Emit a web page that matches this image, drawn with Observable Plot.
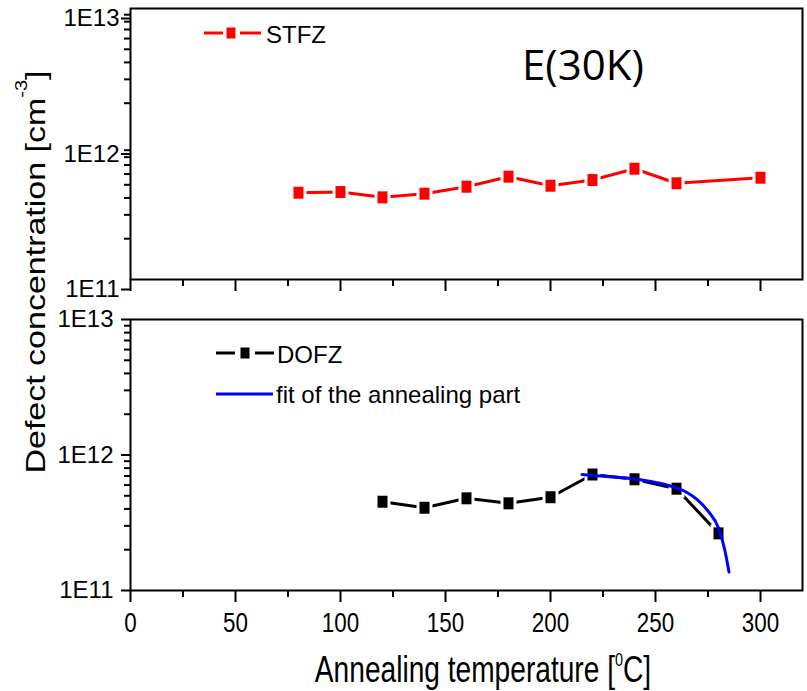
<!DOCTYPE html>
<html><head><meta charset="utf-8">
<script src="https://cdn.jsdelivr.net/npm/d3@7"></script>
<script src="https://cdn.jsdelivr.net/npm/@observablehq/plot@0.6"></script>
<style>
body{margin:0;background:#fff;}
#chart{position:relative;width:807px;height:691px;overflow:hidden;background:#fff;}
#chart svg{position:absolute;left:0;}
</style></head><body><div id="chart"></div>
<script>
// ---- data ----
const stfzTemp = [80, 100, 120, 140, 160, 180, 200, 220, 240, 260, 300];
const stfzConc = [4.37e11, 4.42e11, 4.04e11, 4.30e11, 4.84e11, 5.74e11, 4.92e11, 5.42e11, 6.57e11, 5.13e11, 5.64e11];
const dofzTemp = [120, 140, 160, 180, 200, 220, 240, 260, 280];
const dofzConc = [4.52e11, 4.08e11, 4.79e11, 4.40e11, 4.88e11, 7.18e11, 6.62e11, 5.64e11, 2.64e11];
const fitTemp = [215, 220, 230, 240, 250, 260, 265, 270, 275, 280, 283, 285];
const fitConc = [7.18e11, 7.06e11, 6.89e11, 6.65e11, 6.27e11, 5.71e11, 5.29e11, 4.66e11, 3.86e11, 2.89e11, 1.99e11, 1.37e11];

const majorX = [0, 50, 100, 150, 200, 250, 300];
const minorX = [25, 75, 125, 175, 225, 275];
const majorY = [1e11, 1e12, 1e13];
const yTickLabels = ["1E11", "1E12", "1E13"];
const minorY = [2e11, 3e11, 4e11, 5e11, 6e11, 7e11, 8e11, 9e11, 2e12, 3e12, 4e12, 5e12, 6e12, 7e12, 8e12, 9e12];

const seriesNames = ["STFZ", "DOFZ", "fit of the annealing part"];
const annotation = "E(30K)";
const xTitle = ["Annealing temperature [", "0", "C]"];
const yTitle = ["Defect concentration [cm", "-3", "]"];

// ---- build ----
const FONT = '"Liberation Sans", Arial, Helvetica, sans-serif';
const RED = "#ff0000", BLUE = "#0000ff";
const stfz = stfzTemp.map((t, i) => ({t, n: stfzConc[i]}));
const dofz = dofzTemp.map((t, i) => ({t, n: dofzConc[i]}));
const fit = fitTemp.map((t, i) => ({t, n: fitConc[i]}));

const box = {draw(c) { c.rect(-5, -6, 10, 12); }};
const halo = {draw(c) { c.rect(-8, -9, 16, 18); }};
const fmtY = d => { const i = majorY.indexOf(d); return i >= 0 ? yTickLabels[i] : ""; };

function panel({height, mt, mb, labelsX, yPad, yDy, marks}) {
  return Plot.plot({
    width: 807, height, marginTop: mt, marginBottom: mb, marginLeft: 130, marginRight: 5,
    style: {fontFamily: FONT, fontSize: "24px", color: "black", background: "transparent", overflow: "visible"},
    x: {domain: [0, 320]},
    y: {type: "log", domain: [1e11, 1e13]},
    marks: [
      Plot.frame({stroke: "black", strokeWidth: 2}),
      Plot.axisX(majorX, {tickSize: 12, tickPadding: 10, strokeWidth: 2, fontSize: 28,
        tickFormat: labelsX ? (d => String(d)) : (() => ""), label: null}),
      Plot.axisX(minorX, {tickSize: 7, strokeWidth: 2, tickFormat: () => "", label: null}),
      Plot.axisY(majorY, {tickSize: 9, tickPadding: yPad, dy: yDy, strokeWidth: 2, fontSize: 24, tickFormat: fmtY, label: null}),
      Plot.axisY(minorY, {tickSize: 6, strokeWidth: 2, tickFormat: () => "", label: null}),
      ...marks
    ]
  });
}

const topPlot = panel({height: 300, mt: 8, mb: 21, labelsX: false, yPad: 2, yDy: 10, marks: [
  Plot.line(stfz, {x: "t", y: "n", stroke: RED, strokeWidth: 3}),
  Plot.dot(stfz, {x: "t", y: "n", symbol: halo, fill: "white", r: 1}),
  Plot.dot(stfz, {x: "t", y: "n", symbol: box, fill: RED, r: 1})
]});
const bottomPlot = panel({height: 391, mt: 19, mb: 101, labelsX: true, yPad: 8, yDy: 0, marks: [
  Plot.line(dofz, {x: "t", y: "n", stroke: "black", strokeWidth: 3}),
  Plot.dot(dofz, {x: "t", y: "n", symbol: halo, fill: "white", r: 1}),
  Plot.dot(dofz, {x: "t", y: "n", symbol: box, fill: "black", r: 1}),
  Plot.line(fit, {x: "t", y: "n", stroke: BLUE, strokeWidth: 3, curve: "monotone-x"})
]});
topPlot.style.top = "0px";
bottomPlot.style.top = "300px";

function condense(svg, s) {
  svg.querySelectorAll('g[aria-label="x-axis tick label"] text').forEach(t => {
    if (t.hasAttribute("x")) t.setAttribute("x", (+t.getAttribute("x")) / s);
    const tr = t.getAttribute("transform") || "";
    t.setAttribute("transform", (tr + ` scale(${s},1)`).trim());
  });
}
function thickTicks(svg) {
  svg.querySelectorAll('g[aria-label="x-axis tick"], g[aria-label="y-axis tick"]').forEach(g => {
    g.setAttribute("stroke-width", 2);
    g.setAttribute("stroke", "black");
  });
}

const chart = document.getElementById("chart");
chart.append(topPlot, bottomPlot);
condense(bottomPlot, 0.8);
thickTicks(topPlot); thickTicks(bottomPlot);

// ---- overlay: legends, annotation, axis titles ----
const NS = "http://www.w3.org/2000/svg";
const ov = document.createElementNS(NS, "svg");
ov.setAttribute("width", 807); ov.setAttribute("height", 691);
ov.style.top = "0px"; ov.style.pointerEvents = "none";
ov.innerHTML = `
<g font-family='${FONT}' font-size="24" fill="black">
  <line x1="204" x2="223" y1="33" y2="33" stroke="${RED}" stroke-width="3"/>
  <rect x="226.5" y="27.5" width="9" height="11" fill="${RED}"/>
  <line x1="240" x2="261" y1="33" y2="33" stroke="${RED}" stroke-width="3"/>
  <text x="266" y="42.5">${seriesNames[0]}</text>
  <line x1="216" x2="235" y1="353" y2="353" stroke="black" stroke-width="3"/>
  <rect x="240.5" y="347.5" width="9" height="11" fill="black"/>
  <line x1="255" x2="274" y1="353" y2="353" stroke="black" stroke-width="3"/>
  <text x="277" y="362.5">${seriesNames[1]}</text>
  <line x1="216" x2="273" y1="394" y2="394" stroke="${BLUE}" stroke-width="3"/>
  <text x="276" y="403">${seriesNames[2]}</text>
  <text x="522" y="80" font-family='"Open Sans", sans-serif' font-size="42">${annotation}</text>
  <text transform="translate(483,682) scale(0.76,1)" text-anchor="middle" font-size="37">${xTitle[0]}<tspan dy="-16" font-size="19">${xTitle[1]}</tspan><tspan dy="16">${xTitle[2]}</tspan></text>
  <text transform="translate(45,272) rotate(-90) scale(1,0.82)" text-anchor="middle" font-size="34">${yTitle[0]}<tspan dy="-22" font-size="20">${yTitle[1]}</tspan><tspan dy="22">${yTitle[2]}</tspan></text>
</g>`;
chart.append(ov);
</script></body></html>
